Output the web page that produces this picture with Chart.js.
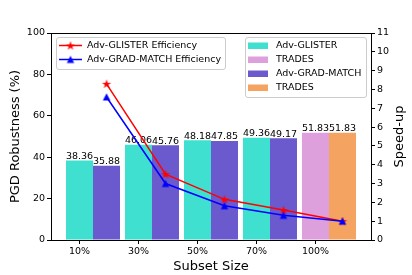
<!DOCTYPE html>
<html><head><meta charset="utf-8">
<script src="https://cdn.jsdelivr.net/npm/chart.js@4.4.1/dist/chart.umd.min.js"></script>
<style>html,body{margin:0;padding:0;background:#fff;}#wrap{width:412px;height:275px;}</style>
</head><body><div id="wrap"><canvas id="c" width="412" height="275"></canvas></div>
<script>
// ---- data ----
const categories = ['10%', '30%', '50%', '70%', '100%'];
const glisterRobustness = [38.36, 46.06, 48.18, 49.36, null];
const gradMatchRobustness = [35.88, 45.76, 47.85, 49.17, null];
const tradesRobustnessA = [null, null, null, null, 51.83];
const tradesRobustnessB = [null, null, null, null, 51.83];
const glisterSpeedup = [8.3, 3.5, 2.16, 1.59, 1.0];
const gradMatchSpeedup = [7.6, 3.0, 1.82, 1.31, 1.0];

const FONT = "'DejaVu Sans', sans-serif";
Chart.defaults.font.family = FONT;
Chart.defaults.color = '#000';

const CAT_PCT = 54 / 59;
const OFF = CAT_PCT / 4; // half a bar in category units

function barPts(arr) { return arr.map((v, i) => v == null ? null : { x: i, y: v }).filter(Boolean); }
function linePts(arr) { return arr.map((v, i) => ({ x: i + OFF, y: v })); }

function starPath(ctx, cx, cy, R) {
  const r = R * 0.381966;
  ctx.beginPath();
  for (let k = 0; k < 10; k++) {
    const a = -Math.PI / 2 + k * Math.PI / 5;
    const rr = k % 2 ? r : R;
    ctx.lineTo(cx + rr * Math.cos(a), cy + rr * Math.sin(a));
  }
  ctx.closePath();
}
function makeStar(color) {
  const c = document.createElement('canvas'); c.width = 12; c.height = 12;
  const g = c.getContext('2d'); g.fillStyle = color; starPath(g, 6, 6.4, 4.8); g.fill();
  return c;
}
function makeTri(color) {
  const c = document.createElement('canvas'); c.width = 10; c.height = 10;
  const g = c.getContext('2d'); g.fillStyle = color; g.beginPath();
  g.moveTo(5, 1.2); g.lineTo(1.3, 8.6); g.lineTo(8.7, 8.6); g.closePath(); g.fill();
  return c;
}
const starImg = makeStar('#ff0000');
const triImg = makeTri('#0000ff');

const tickFont = { family: FONT, size: 9.5 };
const titleFont = { family: FONT, size: 13 };

const barLabels = {
  id: 'barLabels',
  afterDatasetDraw(chart, args) {
    const ds = chart.data.datasets[args.index];
    if (ds.type !== 'bar') return;
    const ctx = chart.ctx;
    ctx.save();
    ctx.font = '9.5px ' + FONT;
    ctx.fillStyle = '#000';
    ctx.textAlign = 'center';
    ctx.textBaseline = 'alphabetic';
    args.meta.data.forEach((el, j) => {
      const v = ds.data[j].y;
      ctx.fillText(v.toFixed(2), el.x, el.y - 1.5);
    });
    ctx.restore();
  }
};

function legendBox(ctx, x, y, w, h) {
  ctx.save();
  ctx.beginPath();
  ctx.roundRect(x + 0.5, y + 0.5, w, h, 2.5);
  ctx.fillStyle = 'rgba(255,255,255,0.8)';
  ctx.fill();
  ctx.strokeStyle = '#cccccc';
  ctx.lineWidth = 1;
  ctx.stroke();
  ctx.restore();
}

const extras = {
  id: 'extras',
  afterDraw(chart) {
    const ctx = chart.ctx;
    const a = chart.chartArea;
    // top spine
    ctx.save();
    ctx.strokeStyle = '#000'; ctx.lineWidth = 1;
    ctx.beginPath(); ctx.moveTo(a.left, Math.round(a.top) + 0.5); ctx.lineTo(a.right + 1, Math.round(a.top) + 0.5); ctx.stroke();
    ctx.restore();

    const dsets = chart.data.datasets;
    ctx.save();
    ctx.font = '9.5px ' + FONT;
    ctx.textBaseline = 'middle';
    ctx.textAlign = 'left';
    // left legend (lines)
    legendBox(ctx, 56, 37, 169, 32);
    [0, 1].forEach((di, r) => {
      const ds = dsets[di];
      const y = 45.5 + r * 14;
      ctx.strokeStyle = ds.borderColor; ctx.lineWidth = 1.5;
      ctx.beginPath(); ctx.moveTo(59, y); ctx.lineTo(82, y); ctx.stroke();
      const img = ds.pointStyle;
      ctx.drawImage(img, 70.5 - img.width / 2, y - img.height / 2);
      ctx.fillStyle = '#000';
      ctx.fillText(ds.label, 87, y + 0.5);
    });
    // right legend (bars)
    legendBox(ctx, 245, 37, 121, 60);
    [2, 3, 4, 5].forEach((di, r) => {
      const ds = dsets[di];
      const y = 45.5 + r * 14;
      ctx.fillStyle = ds.backgroundColor;
      ctx.fillRect(248, y - 3, 20, 6.5);
      ctx.fillStyle = '#000';
      ctx.fillText(ds.label, 276, y + 0.5);
    });
    // right axis title
    ctx.translate(399.5, (a.top + a.bottom) / 2);
    ctx.rotate(-Math.PI / 2);
    ctx.font = '13px ' + FONT;
    ctx.textAlign = 'center';
    ctx.textBaseline = 'middle';
    ctx.fillText('Speed-up', 0, 0);
    ctx.restore();
  }
};

const axisGrid = { display: true, drawOnChartArea: false, drawTicks: true, tickLength: 4, color: '#000', lineWidth: 1, offset: false };
const axisBorder = { display: true, color: '#000', width: 1 };

new Chart(document.getElementById('c'), {
  type: 'bar',
  data: {
    datasets: [
      { type: 'line', label: 'Adv-GLISTER Efficiency', data: linePts(glisterSpeedup), yAxisID: 'y1', xAxisID: 'x',
        borderColor: '#ff0000', backgroundColor: '#ff0000', borderWidth: 1.5, pointStyle: starImg, pointRadius: 5, order: 1, tension: 0 },
      { type: 'line', label: 'Adv-GRAD-MATCH Efficiency', data: linePts(gradMatchSpeedup), yAxisID: 'y1', xAxisID: 'x',
        borderColor: '#0000ff', backgroundColor: '#0000ff', borderWidth: 1.5, pointStyle: triImg, pointRadius: 5, order: 0, tension: 0 },
      { type: 'bar', label: 'Adv-GLISTER', data: barPts(glisterRobustness), backgroundColor: '#40E0D0', stack: 'a', yAxisID: 'y', order: 2 },
      { type: 'bar', label: 'TRADES', data: barPts(tradesRobustnessA), backgroundColor: '#DDA0DD', stack: 'a', yAxisID: 'y', order: 2 },
      { type: 'bar', label: 'Adv-GRAD-MATCH', data: barPts(gradMatchRobustness), backgroundColor: '#6A5ACD', stack: 'b', yAxisID: 'y', order: 2 },
      { type: 'bar', label: 'TRADES', data: barPts(tradesRobustnessB), backgroundColor: '#F4A460', stack: 'b', yAxisID: 'y', order: 2 }
    ]
  },
  options: {
    responsive: false,
    animation: false,
    devicePixelRatio: 1,
    layout: { padding: { top: 33, left: 0, right: 0, bottom: 0 } },
    plugins: { legend: { display: false }, tooltip: { enabled: false } },
    datasets: { bar: { categoryPercentage: CAT_PCT, barPercentage: 1, borderWidth: 0 } },
    scales: {
      x: {
        type: 'linear', min: -0.712, max: 4.712, offset: false,
        afterBuildTicks: s => { s.ticks = categories.map((c, i) => ({ value: i - OFF })); },
        ticks: { callback: (v, i) => categories[i], font: tickFont, color: '#000', padding: 2, maxRotation: 0, autoSkip: false },
        grid: axisGrid, border: axisBorder,
        title: { display: true, text: 'Subset Size', font: titleFont, color: '#000', padding: { top: 0, bottom: 1 } },
        afterFit: s => { s.height = 35; }
      },
      y: {
        type: 'linear', position: 'left', min: 0, max: 100,
        ticks: { stepSize: 20, font: tickFont, color: '#000', padding: 2 },
        grid: axisGrid, border: axisBorder,
        title: { display: true, text: 'PGD Robustness (%)', font: titleFont, color: '#000', padding: { top: 7.5, bottom: 0 } },
        afterFit: s => { s.width = 51; }
      },
      y1: {
        type: 'linear', position: 'right', min: 0, max: 11,
        ticks: { stepSize: 1, font: tickFont, color: '#000', padding: 2 },
        grid: axisGrid, border: axisBorder,
        afterFit: s => { s.width = 41; }
      }
    }
  },
  plugins: [barLabels, extras]
});
</script>
</body></html>
